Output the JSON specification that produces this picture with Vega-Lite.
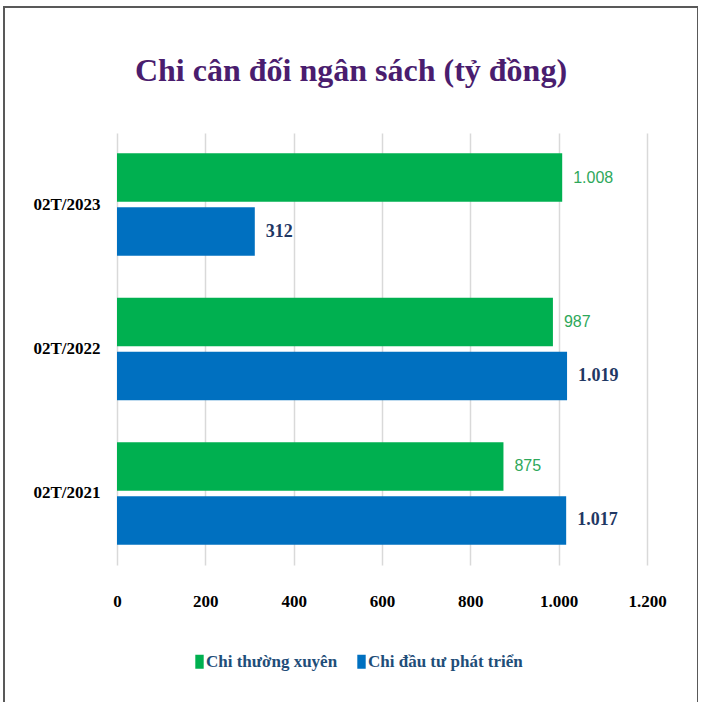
{
  "$schema": "https://vega.github.io/schema/vega-lite/v6.json",
  "width": 694,
  "height": 700,
  "autosize": {"type": "none"},
  "padding": {"left": 4, "top": 7, "right": 0, "bottom": 0},
  "background": "white",
  "config": {
    "locale": {"number": {"decimal": ",", "thousands": ".", "grouping": [3], "currency": ["", ""]}},
    "view": {"stroke": "#595959", "strokeWidth": 2},
    "font": "Liberation Serif"
  },
  "title": {
    "text": "Chi cân đối ngân sách (tỷ đồng)",
    "font": "Liberation Serif",
    "fontSize": 32,
    "fontWeight": "bold",
    "color": "#4a1d6e",
    "anchor": "middle",
    "frame": "group",
    "baseline": "alphabetic",
    "offset": 0,
    "dy": 106
  },
  "data": {
    "values": [
      {"period": "02T/2023", "series": "Chi thường xuyên", "value": 1008},
      {"period": "02T/2023", "series": "Chi đầu tư phát triển", "value": 312},
      {"period": "02T/2022", "series": "Chi thường xuyên", "value": 987},
      {"period": "02T/2022", "series": "Chi đầu tư phát triển", "value": 1019},
      {"period": "02T/2021", "series": "Chi thường xuyên", "value": 875},
      {"period": "02T/2021", "series": "Chi đầu tư phát triển", "value": 1017}
    ]
  },
  "encoding": {
    "y": {
      "field": "period",
      "type": "nominal",
      "sort": ["02T/2023", "02T/2022", "02T/2021"],
      "scale": {"range": [126, 558], "paddingInner": 0.29, "paddingOuter": 0.14},
      "axis": {
        "orient": "left",
        "title": null,
        "domain": false,
        "ticks": false,
        "tickSize": 0,
        "labelPadding": 0,
        "offset": -96,
        "labelFont": "Liberation Serif",
        "labelFontWeight": "bold",
        "labelFontSize": 17,
        "labelColor": "#000000",
        "grid": false
      }
    },
    "yOffset": {
      "field": "series",
      "type": "nominal",
      "sort": ["Chi thường xuyên", "Chi đầu tư phát triển"],
      "scale": {"paddingInner": 0.1}
    },
    "x": {
      "field": "value",
      "type": "quantitative",
      "scale": {"domain": [0, 1200], "range": [113, 643]},
      "axis": {
        "orient": "top",
        "values": [0, 200, 400, 600, 800, 1000, 1200],
        "format": ",d",
        "title": null,
        "domain": false,
        "ticks": false,
        "tickSize": 0,
        "labelPadding": 0,
        "labelFlush": false,
        "labelOverlap": false,
        "offset": -603,
        "labelFont": "Liberation Serif",
        "labelFontWeight": "bold",
        "labelFontSize": 17,
        "labelColor": "#000000",
        "grid": true,
        "gridColor": "#d9d9d9",
        "gridWidth": 1.5
      }
    }
  },
  "layer": [
    {
      "mark": {"type": "bar"},
      "encoding": {
        "color": {
          "field": "series",
          "type": "nominal",
          "scale": {"domain": ["Chi thường xuyên", "Chi đầu tư phát triển"], "range": ["#00b050", "#0070c0"]},
          "legend": {
            "orient": "none",
            "legendX": 187,
            "legendY": 646,
            "direction": "horizontal",
            "title": null,
            "symbolType": "M-0.6,-1H0.6V1H-0.6Z",
            "symbolSize": 196,
            "symbolStrokeWidth": 0,
            "labelFont": "Liberation Serif",
            "labelFontWeight": "bold",
            "labelFontSize": 17,
            "labelColor": "#1f4e79",
            "labelLimit": 300,
            "columnPadding": 15,
            "labelOffset": -2,
            "padding": 0
          }
        }
      }
    },
    {
      "transform": [{"filter": "datum.series === 'Chi thường xuyên'"}],
      "mark": {"type": "text", "align": "left", "baseline": "middle", "dx": 11, "font": "Liberation Sans", "fontSize": 16, "color": "#2ea85a"},
      "encoding": {"text": {"field": "value", "type": "quantitative", "format": ",d"}}
    },
    {
      "transform": [{"filter": "datum.series === 'Chi đầu tư phát triển'"}],
      "mark": {"type": "text", "align": "left", "baseline": "middle", "dx": 11, "font": "Liberation Serif", "fontWeight": "bold", "fontSize": 18, "color": "#1f3864"},
      "encoding": {"text": {"field": "value", "type": "quantitative", "format": ",d"}}
    }
  ]
}
